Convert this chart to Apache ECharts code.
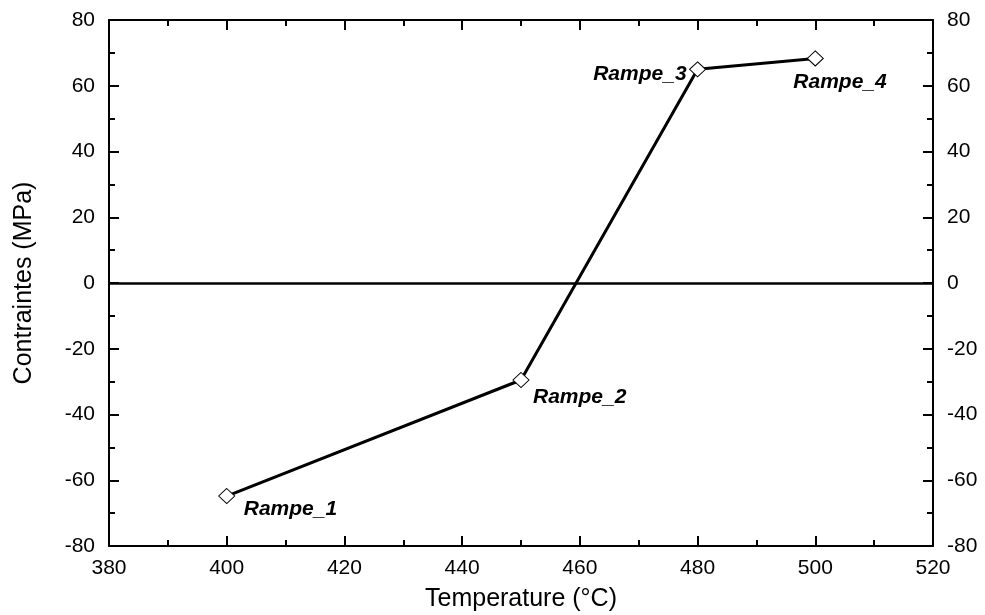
<!DOCTYPE html>
<html><head><meta charset="utf-8">
<script src="https://cdn.jsdelivr.net/npm/echarts@6/dist/echarts.min.js"></script>
<style>html,body{margin:0;padding:0;background:#fff}#c{width:985px;height:615px}</style>
</head><body><div id="c"></div>
<script>
var temperatures = [400, 450, 480, 500];
var stresses = [-64.8, -29.5, 65, 68.3];
var pointLabels = ['Rampe_1', 'Rampe_2', 'Rampe_3', 'Rampe_4'];
var xTitle = 'Temperature (°C)';
var yTitle = 'Contraintes (MPa)';

var labelPlacement = [
  {align: 'left', offset: [17, 13]},
  {align: 'left', offset: [12, 17]},
  {align: 'right', offset: [-11, 5]},
  {align: 'left', offset: [-22, 24]}
];
var FONT = 'Liberation Sans';
var data = temperatures.map(function (t, i) {
  return {
    value: [t, stresses[i]],
    label: {
      show: true, formatter: pointLabels[i], position: 'inside',
      align: labelPlacement[i].align, verticalAlign: 'middle',
      offset: labelPlacement[i].offset,
      fontFamily: FONT, fontWeight: 'bold', fontStyle: 'italic', fontSize: 21, color: '#000'
    }
  };
});
function xAx(pos, showLabel, showName) {
  return {
    type: 'value', position: pos, min: 380, max: 520, interval: 20,
    name: showName ? xTitle : '', nameLocation: 'middle', nameGap: 41,
    nameTextStyle: {fontFamily: FONT, fontSize: 25, color: '#000'},
    axisLine: {show: true, onZero: false, lineStyle: {color: '#000', width: 2}},
    axisTick: {show: true, inside: true, length: 10, lineStyle: {color: '#000', width: 2}},
    minorTick: {show: true, splitNumber: 2, length: 6, lineStyle: {color: '#000', width: 2}},
    axisLabel: {show: showLabel, margin: 12, fontFamily: FONT, fontSize: 21, color: '#000'},
    splitLine: {show: false}
  };
}
function yAx(pos, showName) {
  return {
    type: 'value', position: pos, min: -80, max: 80, interval: 20,
    name: showName ? yTitle : '', nameLocation: 'middle', nameGap: 72,
    nameTextStyle: {fontFamily: FONT, fontSize: 25, color: '#000'},
    axisLine: {show: true, onZero: false, lineStyle: {color: '#000', width: 2}},
    axisTick: {show: true, inside: true, length: 10, lineStyle: {color: '#000', width: 2}},
    minorTick: {show: true, splitNumber: 2, length: 6, lineStyle: {color: '#000', width: 2}},
    axisLabel: {show: true, margin: 14, fontFamily: FONT, fontSize: 21, color: '#000'},
    splitLine: {show: false}
  };
}
var chart = echarts.init(document.getElementById('c'), null, {renderer: 'canvas'});
chart.setOption({
  backgroundColor: '#fff',
  animation: false,
  grid: {left: 109, right: 52, top: 20, bottom: 69, containLabel: false, outerBoundsMode: 'none'},
  xAxis: [xAx('bottom', true, true), xAx('top', false, false)],
  yAxis: [yAx('left', true), yAx('right', false)],
  series: [{
    type: 'line', xAxisIndex: 0, yAxisIndex: 0, data: data,
    symbol: 'diamond', symbolSize: [16, 15],
    lineStyle: {color: '#000', width: 3},
    itemStyle: {color: '#fff', borderColor: '#000', borderWidth: 1},
    markLine: {
      silent: true, symbol: ['none', 'none'], label: {show: false},
      lineStyle: {color: '#000', width: 2.5, type: 'solid'},
      data: [{yAxis: 0}]
    },
    z: 3
  }]
});
</script></body></html>
